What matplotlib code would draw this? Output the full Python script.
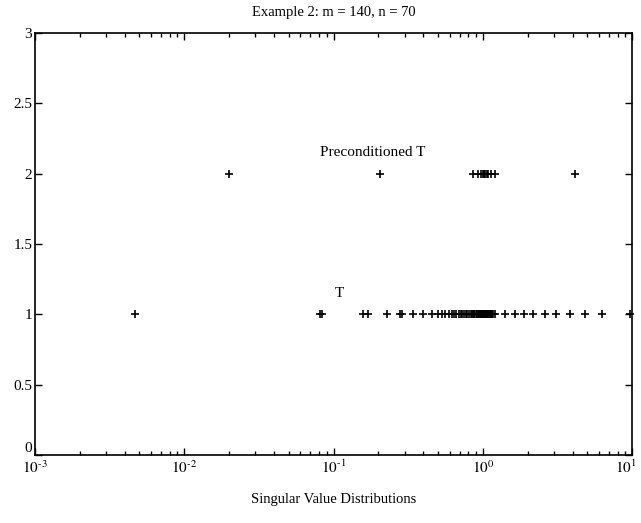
import matplotlib
matplotlib.use("Agg")
import matplotlib.pyplot as plt
import matplotlib.transforms as mtransforms
import numpy as np

# Singular values of T (plotted at height 1)
t_values = [0.0047, 0.081, 0.084, 0.157, 0.171, 0.227, 0.280, 0.286, 0.343, 0.395, 0.455,
            0.50, 0.53, 0.56, 0.59, 0.62, 0.64, 0.66, 0.69, 0.71, 0.73, 0.75, 0.77, 0.79,
            0.81, 0.83, 0.85, 0.86, 0.88, 0.89, 0.91, 0.92, 0.94, 0.95, 0.96, 0.97, 0.98,
            0.99, 1.00, 1.01, 1.02, 1.03, 1.04, 1.05, 1.06, 1.07, 1.08, 1.09, 1.10, 1.11,
            1.12, 1.13, 1.15, 1.17, 1.20,
            1.42, 1.65, 1.89, 2.18, 2.61, 3.10, 3.85, 4.84, 6.27, 9.7]
t_level = 1.0

# Singular values of preconditioned T (plotted at height 2)
p_values = [0.020, 0.205, 0.86, 0.93, 0.97, 1.00, 1.02, 1.04, 1.06, 1.09, 1.13, 1.20, 4.15]
p_level = 2.0

title = "Example 2: m = 140, n = 70"
xlabel = "Singular Value Distributions"
yticks = [0, 0.5, 1, 1.5, 2, 2.5, 3]
ytick_labels = ["0", "0.5", "1", "1.5", "2", "2.5", "3"]
xticks = [1e-3, 1e-2, 1e-1, 1e0, 1e1]
xtick_labels = [r"$10^{\text{-}3}$", r"$10^{\text{-}2}$", r"$10^{\text{-}1}$",
                r"$10^{0}$", r"$10^{1}$"]

plt.rcParams['font.family'] = ['Liberation Serif', 'DejaVu Serif']
plt.rcParams['mathtext.fontset'] = 'stix'

fig = plt.figure(figsize=(6.41, 5.23), dpi=100)
ax = fig.add_axes([35/641, 1-455/523, 597/641, 422/523])

ax.plot(t_values, [t_level]*len(t_values), linestyle='none', marker='+',
        color='black', markersize=5.5, markeredgewidth=1.2, clip_on=False)
ax.plot(p_values, [p_level]*len(p_values), linestyle='none', marker='+',
        color='black', markersize=5.5, markeredgewidth=1.2, clip_on=False)

ax.set_xscale('log')
ax.set_xlim(1e-3, 1e1)
ax.set_ylim(0, 3)
ax.set_yticks(yticks)
ax.set_yticklabels(ytick_labels)
ax.set_xticks(xticks)
ax.set_xticklabels(xtick_labels)
ax.xaxis.set_minor_locator(matplotlib.ticker.LogLocator(base=10, subs=np.arange(2, 10)))
ax.xaxis.set_minor_formatter(matplotlib.ticker.NullFormatter())

ax.tick_params(axis='both', which='both', direction='in', top=True, right=True,
               labelsize=11, width=1.0, colors='black')
ax.tick_params(which='major', length=5)
ax.tick_params(which='minor', length=3)
ax.tick_params(axis='x', pad=3)
ax.tick_params(axis='y', pad=2)
for s in ax.spines.values():
    s.set_linewidth(1.2)

# lift the "0" label so it sits just above the x axis as in the original
ax.get_yticklabels()[0].set_verticalalignment('bottom')
# keep the last x label inside the figure
last = ax.get_xticklabels()[-1]
last.set_horizontalalignment('right')
last.set_transform(last.get_transform() +
                   mtransforms.ScaledTranslation(5/100, 0, fig.dpi_scale_trans))

ax.text(0.081, 2.15, "Preconditioned T", ha='left', va='center', fontsize=11)
ax.text(0.109, 1.15, "T", ha='center', va='center', fontsize=11)

ax.text(0.5, 1 + (33-12)/422, title, transform=ax.transAxes, ha='center', va='center',
        fontsize=10.5)
ax.text(0.5, -(500-455)/422, xlabel, transform=ax.transAxes, ha='center', va='center',
        fontsize=10.5)

fig.savefig("out.png", dpi=100)
